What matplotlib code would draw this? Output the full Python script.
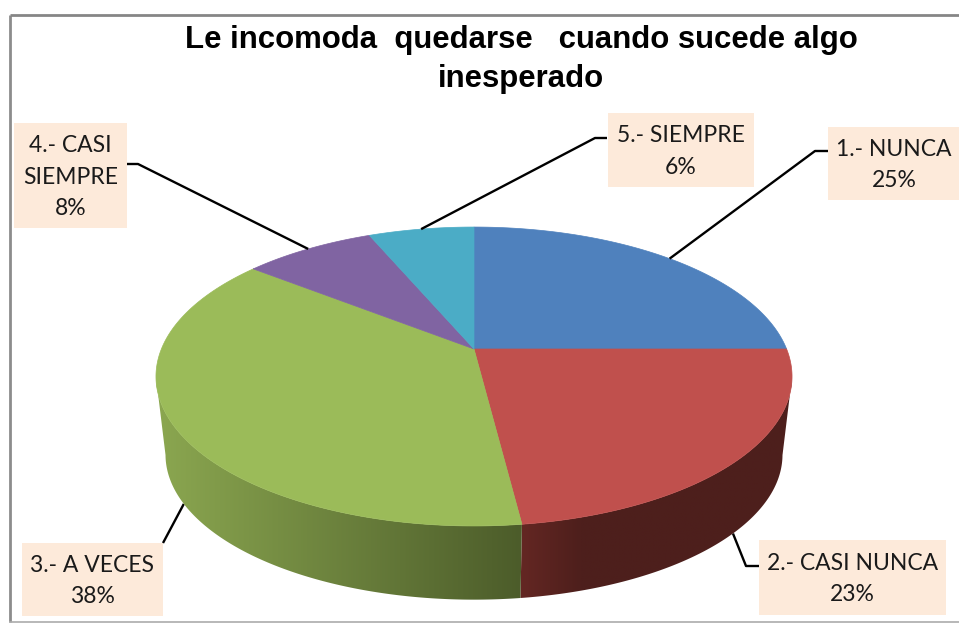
import numpy as np
import matplotlib
matplotlib.use("Agg")
import matplotlib.pyplot as plt
from matplotlib.colors import LinearSegmentedColormap
from matplotlib.patches import Polygon, Rectangle

title = "Le incomoda  quedarse   cuando sucede algo\ninesperado"
categories = ["1.- NUNCA", "2.- CASI NUNCA", "3.- A VECES", "4.- CASI\nSIEMPRE", "5.- SIEMPRE"]
percent = [25, 23, 37.6, 8, 6.4]
colors = ["#4F81BD", "#C0504D", "#9BBB59", "#8064A2", "#4BACC6"]

# wall colour ramps, from left to right of each visible wall
wall_ramps = {
    1: [(0, "#642723"), (0.22, "#4E1F1C"), (1, "#4D1F1C")],
    2: [(0, "#8BA750"), (1, "#4C5C2A")],
}

# label boxes x0, y0, x1, y1 in pixels, and the bend of each leader
boxes = [(828, 127, 960, 200), (759, 540, 946, 615), (22, 543, 163, 616), (14, 123, 127, 228), (608, 113, 754, 187)]
bends = [[(815, 151), (828, 151)], [(746, 566), (759, 566)], [(163, 543)], [(138, 164), (127, 164)], [(595, 138), (607, 138)]]

fig = plt.figure(figsize=(9.59, 6.23), dpi=100)
ax = fig.add_axes([0, 0, 1, 1])
ax.axis("off")


# perspective of the disc: centre sits above the middle of the ellipse
def top_rim(theta):
    u, v = np.sin(theta), np.cos(theta)
    w = 1 + 0.184 * v
    return 474 + 312.6 * u / w, 349 - 144.4 * v / w


def bottom_rim(theta):
    x, y = top_rim(theta)
    return 474 + 0.97 * (x - 474), 428 + 0.97 * (y - 349)


edges = np.cumsum([0] + percent) / sum(percent) * 2 * np.pi

# wall first, then the top of the pie
for i in wall_ramps:
    th = np.linspace(edges[i], edges[i + 1], 300)
    th = th[np.cos(th) < -0.184]
    tx, ty = top_rim(th)
    bx, by = bottom_rim(th)
    xs = np.r_[tx, bx[::-1]]
    ys = np.r_[ty, by[::-1]]
    poly = Polygon(np.c_[xs, ys], closed=True, facecolor="none", edgecolor="none", transform=ax.transData)
    ax.add_patch(poly)
    cmap = LinearSegmentedColormap.from_list("wall" + str(i), wall_ramps[i])
    im = ax.imshow(np.linspace(0, 1, 256)[None, :], cmap=cmap, aspect="auto", interpolation="bilinear", zorder=2,
                   extent=[xs.min(), xs.max(), ys.max(), ys.min()])
    im.set_clip_path(poly)

for i in range(len(percent)):
    th = np.linspace(edges[i], edges[i + 1], 200)
    x, y = top_rim(th)
    ax.fill(np.r_[474, x], np.r_[349, y], facecolor=colors[i], edgecolor=colors[i], lw=0.5, zorder=3)

# leaders and labels
for i in range(len(percent)):
    mid = (edges[i] + edges[i + 1]) / 2
    if np.cos(mid) < -0.184:
        start = bottom_rim(mid)
    else:
        start = top_rim(mid)
    pts = [start] + bends[i]
    ax.plot([p[0] for p in pts], [p[1] for p in pts], color="black", lw=1.7, zorder=1 if np.cos(mid) < -0.184 else 4, solid_capstyle="butt")
    x0, y0, x1, y1 = boxes[i]
    ax.add_patch(Rectangle((x0, y0), x1 - x0, y1 - y0, facecolor="#FDEADA", edgecolor="none", zorder=5))
    ax.text((x0 + x1) / 2, (y0 + y1) / 2 + 1.5, categories[i] + "\n" + str(round(percent[i])) + "%", ha="center", va="center",
            fontsize=16.5, family="Lato", color="#1a1a1a", linespacing=1.62, zorder=6)

ax.text(521, 59.5, title, ha="center", va="center", fontsize=22.4, fontweight="bold", family="Liberation Sans",
        color="black", linespacing=1.36, zorder=6)

# chart frame
ax.plot([10, 10], [622, 14.5], color="#8C8C8C", lw=2, zorder=7, solid_capstyle="butt")
ax.plot([10, 959], [14.5, 14.5], color="#868686", lw=2, zorder=7, solid_capstyle="butt")
ax.plot([10, 959], [622, 622], color="#ABABAB", lw=1.2, zorder=7)

ax.set_xlim(0, 959)
ax.set_ylim(623, 0)

fig.savefig("out.png", dpi=100)
